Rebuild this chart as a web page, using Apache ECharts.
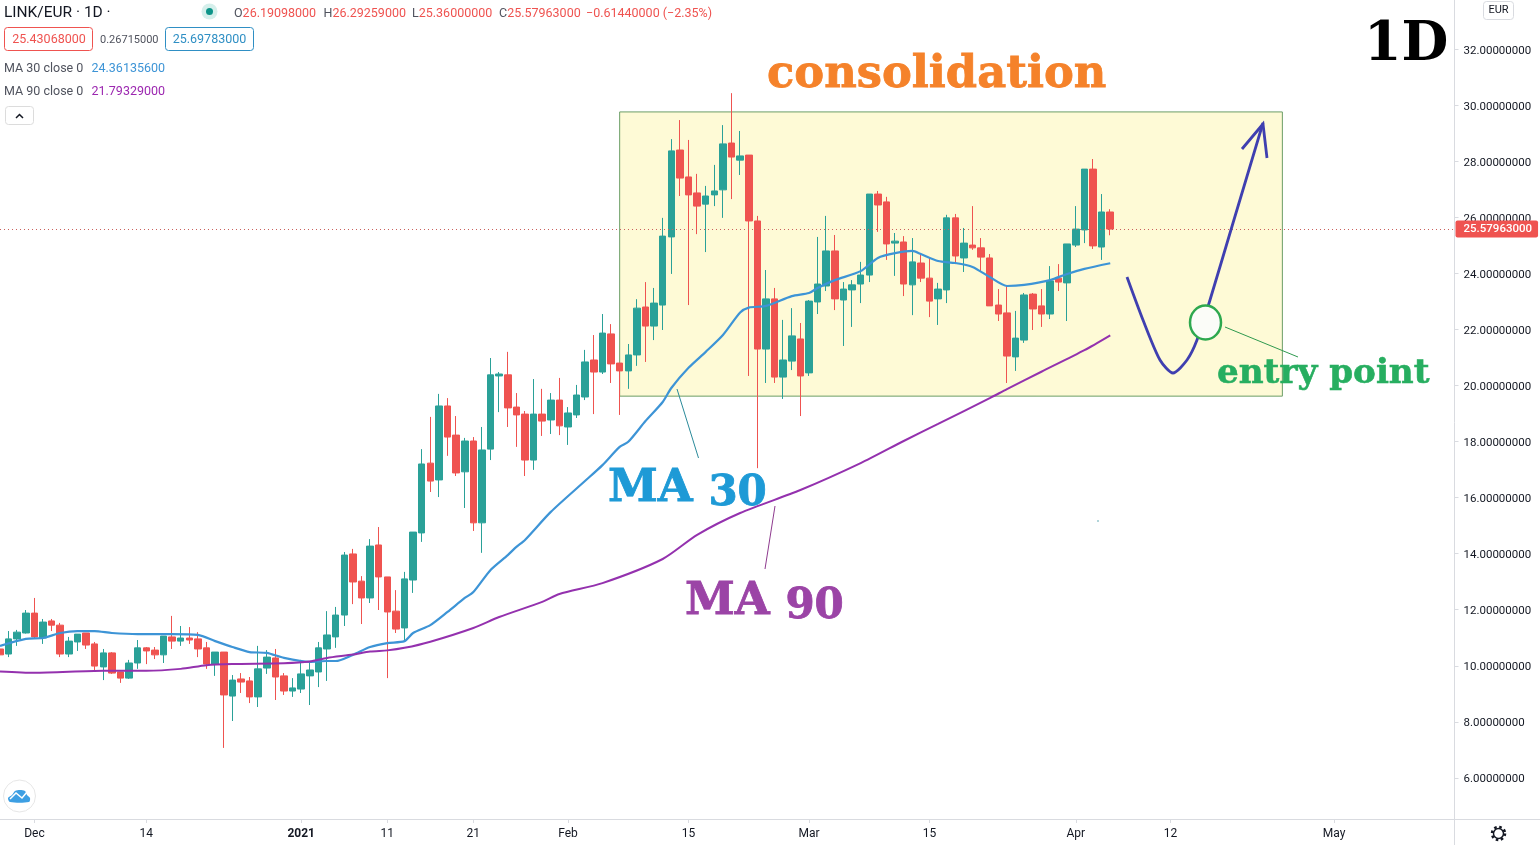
<!DOCTYPE html>
<html>
<head>
<meta charset="utf-8">
<title>LINK/EUR 1D</title>
<script src="https://cdn.jsdelivr.net/npm/echarts@6/dist/echarts.min.js"></script>
<style>
  html, body { margin: 0; padding: 0; background: #fff; }
  #chart { width: 1540px; height: 845px; }
</style>
</head>
<body>
<div id="chart"></div>
<script>
// daily candles, 27 Nov 2020 to 5 Apr 2021
const opens = [
  10.60,10.42,10.96,11.17,11.88,10.99,11.60,11.45,10.42,10.85,
  11.17,10.78,9.96,10.46,9.78,9.56,10.10,10.64,10.56,10.39,
  11.03,10.88,10.99,10.96,10.64,10.06,10.49,8.92,9.53,9.46,
  8.89,9.92,10.28,9.64,9.10,9.17,9.64,9.78,10.60,11.03,
  11.81,13.99,13.02,12.42,14.31,13.17,11.95,11.35,13.06,14.74,
  17.23,16.63,19.27,18.23,16.92,18.02,15.10,17.73,20.34,20.38,
  19.23,18.98,17.34,18.98,18.77,19.48,18.52,18.95,19.59,20.91,
  20.48,21.84,20.80,20.52,21.09,22.80,22.12,22.87,25.30,28.40,
  27.44,26.87,26.47,26.80,26.98,28.65,28.04,28.22,25.87,21.30,
  23.09,20.30,20.87,21.66,20.45,22.98,23.55,24.80,23.05,23.41,
  23.62,23.94,26.83,26.55,25.08,25.12,23.59,24.37,23.83,23.09,
  23.41,25.98,24.55,25.01,24.91,24.55,22.87,22.59,21.02,21.62,
  23.26,22.84,22.55,23.83,23.66,25.01,25.55,27.72,24.94,26.19
]
const closes = [
  10.39,10.96,11.20,11.88,11.03,11.56,11.45,10.42,10.88,11.13,
  10.74,9.99,10.46,9.74,9.56,10.10,10.64,10.53,10.39,11.06,
  10.88,10.99,10.92,10.60,10.06,10.49,8.96,9.49,9.42,8.89,
  9.89,10.31,9.60,9.10,9.21,9.71,9.85,10.64,11.10,11.81,
  13.95,12.99,12.42,14.27,13.17,11.92,11.31,13.10,14.77,17.20,
  16.59,19.27,18.16,16.88,18.02,15.10,17.70,20.38,20.41,19.20,
  18.95,17.34,18.98,18.73,19.48,18.56,19.02,19.66,20.84,20.48,
  21.87,20.77,20.52,21.09,22.76,22.12,22.94,25.33,28.37,27.40,
  26.80,26.40,26.76,26.94,28.62,28.15,28.19,25.87,21.30,23.09,
  20.30,20.91,21.77,20.34,23.01,23.62,24.80,23.09,23.44,23.59,
  23.94,26.83,26.44,25.05,25.15,23.62,24.41,23.83,23.01,23.44,
  25.98,24.62,25.08,24.91,24.58,22.84,22.55,21.05,21.69,23.23,
  22.73,22.55,23.73,23.69,25.05,25.58,27.72,24.98,26.19,25.58
]
const highs = [
  10.67,11.24,11.28,11.99,12.42,11.67,11.67,11.53,11.03,11.13,
  11.17,10.85,10.60,10.49,9.78,10.21,10.92,10.67,10.67,11.06,
  11.78,11.42,11.38,11.20,10.85,10.49,10.49,9.67,9.74,9.60,
  10.71,10.56,10.60,9.74,9.56,10.21,10.14,10.85,11.95,12.10,
  14.06,14.17,13.20,14.52,14.95,13.17,12.70,13.35,14.77,17.73,
  18.88,19.70,19.55,18.91,18.13,18.16,18.52,20.98,20.48,21.20,
  19.73,19.09,20.23,19.88,19.73,20.27,19.23,20.02,21.27,21.80,
  22.55,22.19,20.80,21.48,23.08,23.69,23.48,25.98,28.79,29.47,
  28.76,27.55,27.12,27.87,29.29,30.43,29.08,28.22,26.05,24.12,
  23.48,22.34,22.76,22.23,23.05,25.30,26.05,25.37,23.69,23.76,
  24.41,26.83,26.94,26.73,25.44,25.33,25.26,24.66,24.55,23.66,
  26.09,26.12,25.62,26.40,25.26,24.69,23.44,23.55,22.66,23.30,
  23.30,23.44,24.26,24.33,25.05,26.40,27.72,28.08,26.83,26.29
]
const lows = [
  10.31,10.31,10.71,11.15,10.96,10.78,11.24,10.31,10.31,10.53,
  10.60,9.85,9.49,9.71,9.39,9.53,9.89,10.06,10.24,10.10,
  10.60,10.71,10.78,10.31,9.89,9.64,7.07,8.03,9.03,8.67,
  8.53,9.71,8.78,8.96,8.89,9.03,8.60,9.24,9.46,10.64,
  11.42,12.20,11.49,12.24,11.99,9.56,11.17,10.88,12.60,14.42,
  16.20,16.02,17.49,16.77,15.63,14.81,14.03,17.34,19.05,18.52,
  17.81,16.77,16.99,18.20,18.27,18.23,17.88,18.84,19.48,18.98,
  20.41,20.09,18.95,19.88,20.70,20.84,21.62,21.98,23.98,26.76,
  22.87,25.40,24.76,26.40,25.98,26.65,27.51,20.34,17.05,20.09,
  20.09,19.52,20.55,18.91,20.34,22.55,23.37,22.69,21.41,22.09,
  22.94,23.69,25.48,24.48,23.91,23.19,22.51,23.69,22.44,22.16,
  22.94,24.33,24.05,24.84,24.08,22.84,22.30,20.09,20.52,21.52,
  21.98,22.09,22.37,23.37,22.30,24.94,25.08,24.87,24.48,25.36
]

// moving averages, read at the bends: day index and price
const ma30Days = [0,3,5,7,9,11,13,16,20,23,25,27,29,31,33,36,38,39,41,43,45,47,48,50,52,54,55,57,59,60,61,64,68,70,72,73,75,77,78,80,82,84,86,87,89,92,94,95,97,100,102,104,106,107,109,111,113,115,117,119,122,124,126,129]
const ma30Values = [10.71,10.96,10.99,11.17,11.24,11.24,11.17,11.13,11.13,11.10,10.88,10.67,10.49,10.46,10.28,10.14,10.17,10.17,10.39,10.67,10.81,10.88,11.17,11.45,11.92,12.42,12.63,13.42,13.95,14.24,14.49,15.49,16.60,17.16,17.81,17.99,18.73,19.41,19.91,20.63,21.20,21.80,22.60,22.78,22.84,23.19,23.30,23.48,23.76,24.08,24.55,24.72,24.80,24.69,24.44,24.37,24.23,23.87,23.55,23.59,23.76,23.98,24.16,24.36]
const ma90Days = [0,4,12,17,21,24,27,33,36,38,41,43,45,47,50,55,58,63,65,70,77,81,86,93,100,105,109,115,117,121,126,129]
const ma90Values = [9.80,9.75,9.82,9.82,9.89,10.02,10.06,10.09,10.15,10.28,10.40,10.51,10.55,10.64,10.86,11.35,11.74,12.28,12.56,12.95,13.81,14.67,15.45,16.27,17.23,18.02,18.63,19.55,19.87,20.49,21.26,21.79]

const lastPrice = 25.57963
const priceTicks = [6,8,10,12,14,16,18,20,22,24,26,28,30,32]
const tickDates = ['2020-12-01','2020-12-14','2021-01-01','2021-01-11','2021-01-21','2021-02-01','2021-02-15','2021-03-01','2021-03-15','2021-04-01','2021-04-12','2021-05-01']
const tickLabels = ['Dec','14','2021','11','21','Feb','15','Mar','15','Apr','12','May']

// the axis runs on past the last candle into the empty space on the right
const categories = []
for (let i = 0; i < 170; i++) {
  categories.push(new Date(Date.UTC(2020, 10, 27 + i)).toISOString().slice(0, 10))
}

const UP = '#2aa198'
const DOWN = '#ef5350'
const UI_FONT = 'Roboto, sans-serif'
const SERIF = '"DejaVu Serif", serif'

function label(x, y, text, font, fill, extra) {
  return {
    type: 'text', x, y, z: 100,
    style: Object.assign({ text, font, fill, textVerticalAlign: 'middle' }, extra)
  }
}
function line(x1, y1, x2, y2, stroke, width) {
  return { type: 'line', z: 90, shape: { x1, y1, x2, y2 }, style: { stroke, lineWidth: width || 1 } }
}
function box(x, y, w, h, stroke) {
  return { type: 'rect', z: 95, shape: { x, y, width: w, height: h, r: 3 }, style: { fill: '#fff', stroke, lineWidth: 1 } }
}
function ohlc(x, letter, value) {
  return label(x, 14, `{k|${letter}}{v|${value}}`, '12.5px ' + UI_FONT, DOWN, {
    rich: { k: { fill: '#50535e', font: '12.5px ' + UI_FONT }, v: { fill: DOWN, font: '12.5px ' + UI_FONT } }
  })
}
// big hand-placed caption with old-style looking figures that sit low
function maCaption(x, y, text, fill) {
  const [name, num] = text.split(' ')
  return label(x, y, `{a|${name} }{b|${num}}`, 'bold 45px ' + SERIF, fill, {
    rich: {
      a: { font: 'bold 45px ' + SERIF, fill, stroke: fill, lineWidth: 0.8 },
      b: { font: 'bold 42px ' + SERIF, fill, stroke: fill, lineWidth: 0.8, padding: [10, 0, 0, 0] }
    }
  })
}

const overlay = [
  // frame
  line(1454.5, 0, 1454.5, 845, '#d9dbe0'),
  line(0, 819.5, 1540, 819.5, '#d9dbe0'),

  // legend
  label(4, 13, 'LINK/EUR · 1D ·', '15.5px ' + UI_FONT, '#131722'),
  { type: 'circle', z: 95, shape: { cx: 209.5, cy: 11.5, r: 8 }, style: { fill: '#d5efeb' } },
  { type: 'circle', z: 96, shape: { cx: 209.5, cy: 11.5, r: 3.5 }, style: { fill: '#0d9488' } },
  ohlc(234, 'O', '26.19098000'),
  ohlc(323.5, 'H', '26.29259000'),
  ohlc(412, 'L', '25.36000000'),
  ohlc(499, 'C', '25.57963000'),
  label(586, 14, '−0.61440000 (−2.35%)', '12.5px ' + UI_FONT, DOWN),
  box(4.5, 27.5, 88, 23, DOWN),
  label(49, 40, '25.43068000', '12.5px ' + UI_FONT, DOWN, { align: 'center' }),
  label(100, 40, '0.26715000', '11px ' + UI_FONT, '#50535e'),
  box(165.5, 27.5, 88, 23, '#2f8fc4'),
  label(209.5, 40, '25.69783000', '12.5px ' + UI_FONT, '#2f8fc4', { align: 'center' }),
  label(4, 68.5, 'MA 30 close 0', '12.5px ' + UI_FONT, '#50535e'),
  label(91.5, 68.5, '24.36135600', '12.5px ' + UI_FONT, '#3d94d6'),
  label(4, 91.5, 'MA 90 close 0', '12.5px ' + UI_FONT, '#50535e'),
  label(91.5, 91.5, '21.79329000', '12.5px ' + UI_FONT, '#9c27b0'),
  box(5.5, 106.5, 28, 18, '#dcdcdc'),
  { type: 'polyline', z: 96, shape: { points: [[16, 118], [19.5, 114.5], [23, 118]] }, style: { stroke: '#131722', lineWidth: 1.5, fill: null } },

  // top right
  box(1483.5, 1.5, 30, 18, '#d9dbe0'),
  label(1498.5, 10.5, 'EUR', '11px ' + UI_FONT, '#131722', { align: 'center' }),

  // logo
  { type: 'circle', z: 95, shape: { cx: 19.5, cy: 796, r: 16 }, style: { fill: '#fff', stroke: '#e6e6e6', lineWidth: 1 } },
  { type: 'polygon', z: 96, shape: { points: [[10, 802], [8, 798], [12, 795], [15, 791], [20, 790], [25, 791], [27, 795], [30, 798], [29, 802]], smooth: 0.3 }, style: { fill: '#3d9fe3' } },
  { type: 'polyline', z: 97, shape: { points: [[10, 799], [16, 793], [22, 798], [27, 792]] }, style: { stroke: '#fff', lineWidth: 1.5, fill: null } },

  // gear
  { type: 'circle', z: 95, shape: { cx: 1498.5, cy: 833.5, r: 5 }, style: { fill: '#fff', stroke: '#131722', lineWidth: 1.5 } },
  { type: 'circle', z: 94, shape: { cx: 1498.5, cy: 833.5, r: 6.5 }, style: { fill: null, stroke: '#131722', lineWidth: 2.5, lineDash: [2.5, 2.6] } },

  // drawn on top of the chart
  line(677, 389, 698.5, 458, '#2a8a9a'),
  line(775, 506, 765, 569, '#8e3a8e'),
  line(1225, 327, 1298, 357, '#2f9a4f'),
  { type: 'circle', z: 92, shape: { cx: 1098, cy: 521, r: 0.7 }, style: { fill: '#2a8a9a' } },
  {
    type: 'polyline', z: 91,
    shape: { points: [[1127, 277], [1143, 320], [1160, 360], [1173, 373], [1187, 360], [1197, 340], [1210, 300], [1233, 223], [1263, 123]], smooth: 0.25 },
    style: { stroke: '#3f3fb0', lineWidth: 2.8, fill: null }
  },
  { type: 'polyline', z: 91, shape: { points: [[1242, 149], [1263, 124], [1267, 158]] }, style: { stroke: '#3f3fb0', lineWidth: 2.8, fill: null } },
  { type: 'ellipse', z: 92, shape: { cx: 1205.5, cy: 322.5, rx: 15.5, ry: 17 }, style: { fill: '#fbfcf8', stroke: '#2ea84f', lineWidth: 2.5 } },

  label(767, 75, 'consolidation', 'bold 44.8px ' + SERIF, '#f5822a', { stroke: '#f5822a', lineWidth: 0.8 }),
  maCaption(608, 489, 'MA 30', '#1e9ad6'),
  maCaption(685, 602, 'MA 90', '#9b44a6'),
  label(1217, 374, 'entry point', 'bold 34.2px ' + SERIF, '#27ae60', { stroke: '#27ae60', lineWidth: 0.6 }),
  label(1364, 46, '1D', 'bold 54px ' + SERIF, '#000')
]

const chart = echarts.init(document.getElementById('chart'))
chart.setOption({
  animation: false,
  grid: { left: -1.2, right: 85.5, top: 0, bottom: 26 },
  xAxis: {
    type: 'category',
    data: categories,
    boundaryGap: false,
    axisLine: { show: false },
    axisTick: {
      length: 4,
      interval: (i, v) => tickDates.includes(v),
      lineStyle: { color: '#d9dbe0' }
    },
    axisLabel: {
      interval: (i, v) => tickDates.includes(v),
      formatter: v => {
        const t = tickLabels[tickDates.indexOf(v)]
        return t === '2021' ? `{y|${t}}` : t
      },
      rich: { y: { fontFamily: UI_FONT, fontSize: 12, fontWeight: 'bold', color: '#131722' } },
      fontFamily: UI_FONT,
      fontSize: 12,
      color: '#131722',
      margin: 9
    },
    splitLine: { show: false }
  },
  yAxis: {
    type: 'value',
    position: 'right',
    min: 4.534,
    max: 33.753,
    axisLine: { show: false },
    axisTick: { show: true, length: 4, customValues: priceTicks, lineStyle: { color: '#d9dbe0' } },
    axisLabel: {
      customValues: priceTicks,
      formatter: v => `{p|${v.toFixed(8)}}`,
      rich: { p: { fontFamily: UI_FONT, fontSize: 11.5, color: '#131722', padding: [3, 0, 0, 0] } },
      margin: 9
    },
    splitLine: { show: false }
  },
  series: [
    {
      type: 'candlestick',
      data: opens.map((o, i) => [o, closes[i], lows[i], highs[i]]),
      barWidth: 7,
      itemStyle: { color: UP, color0: DOWN, borderColor: UP, borderColor0: DOWN, borderWidth: 1 },
      markArea: {
        silent: true,
        itemStyle: { color: '#fefad6', opacity: 1, borderColor: '#6b9e66', borderWidth: 1 },
        data: [[{ xAxis: categories[72], yAxis: 29.76 }, { xAxis: categories[149], yAxis: 19.62 }]]
      },
      markLine: {
        silent: true,
        symbol: 'none',
        lineStyle: { color: '#c9605c', type: [1, 3], width: 1 },
        label: {
          position: 'end',
          distance: 1,
          formatter: () => lastPrice.toFixed(8),
          backgroundColor: DOWN,
          color: '#fff',
          fontFamily: UI_FONT,
          fontSize: 11.5,
          fontWeight: 500,
          padding: [3, 6, 2, 8],
          borderRadius: 2
        },
        data: [{ yAxis: lastPrice }]
      }
    },
    {
      type: 'line',
      name: 'MA 30',
      data: ma30Days.map((d, i) => [d, ma30Values[i]]),
      showSymbol: false,
      smooth: 0.25,
      lineStyle: { color: '#3d94d6', width: 2.2 }
    },
    {
      type: 'line',
      name: 'MA 90',
      data: ma90Days.map((d, i) => [d, ma90Values[i]]),
      showSymbol: false,
      smooth: 0.25,
      lineStyle: { color: '#9431ae', width: 2 }
    }
  ],
  graphic: overlay
})
</script>
</body>
</html>
